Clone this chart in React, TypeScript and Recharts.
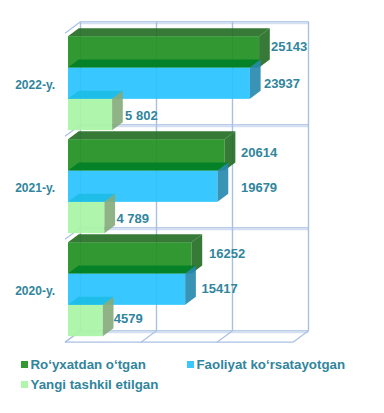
import { BarChart, Bar, XAxis, YAxis, CartesianGrid, LabelList, Legend } from 'recharts';

const years = ['2022-y.', '2021-y.', '2020-y.'];
const registered = [25143, 20614, 16252];
const active = [23937, 19679, 15417];
const created = [5802, 4789, 4579];
const createdLabels = ['5 802', '4 789', '4579'];
const ticks = [0, 10000, 20000, 30000];

// hand placed labels in the original, offset from the bar end / bar middle
const registeredNudge = [[12, -5.5], [16.4, -2.5], [17.5, -4.5]];
const activeNudge = [[14, 0], [23.4, 1], [16.3, -1]];
const createdNudge = [[13, 1], [12, 1], [11, -2.5]];

const data = years.map((year, i) => ({
  year,
  registered: registered[i],
  active: active[i],
  created: created[i],
  createdLabel: createdLabels[i],
}));

const WIDTH = 384;
const HEIGHT = 413;
const MARGIN = { top: 31.2, right: 88, bottom: 72.8, left: 0 };
const BAND = (HEIGHT - MARGIN.top - MARGIN.bottom) / years.length;
const TEXT = '#31859c';
const FONT = '"Liberation Sans", Arial, sans-serif';
const LINE = '#a9c0e3';
const LINE_SOFT = '#d3dff0';

// depth of the bars and of the chart box
const BAR_DX = 10.7;
const BAR_DY = 8;
const BACK_DX = 12.5;
const BACK_DY = -9.5;
const FRONT_DX = -3;
const FRONT_DY = 2;

function bar3d(front: string, top: string, side: string) {
  return (props: any) => {
    const { x, y, width, height } = props;
    const r = x + width;
    return (
      <g>
        <rect x={x} y={y} width={width} height={height} fill={front} fillOpacity={0.92} />
        <polygon
          points={`${x},${y} ${x + BAR_DX},${y - BAR_DY} ${r + BAR_DX},${y - BAR_DY} ${r},${y}`}
          fill={top}
          fillOpacity={0.9}
        />
        <polygon
          points={`${r},${y} ${r + BAR_DX},${y - BAR_DY} ${r + BAR_DX},${y + height - BAR_DY} ${r},${y + height}`}
          fill={side}
          fillOpacity={0.9}
        />
      </g>
    );
  };
}

function valueLabel(nudge: number[][]) {
  return (props: any) => {
    const { x, y, width, height, value, index } = props;
    return (
      <text
        x={x + width + nudge[index][0]}
        y={y + height / 2 + nudge[index][1]}
        dominantBaseline="central"
        fill={TEXT}
        fontFamily={FONT}
        fontSize={13}
        fontWeight="bold"
      >
        {value}
      </text>
    );
  };
}

function wallLine(props: any) {
  const { x1, x2, y1 } = props;
  // the grid also hands over the plot edges, only the band centres are wanted
  const pos = (y1 - MARGIN.top) / BAND;
  const row = Math.floor(pos);
  if (Math.abs(pos - row - 0.5) > 0.01) return <g key={`edge-${y1}`} />;
  const top = y1 - BAND / 2;
  const isLast = row === years.length - 1;
  const rows = isLast ? [top, top + BAND] : [top];
  return (
    <g key={`h-${row}`}>
      {rows.map((y) => (
        <g key={y}>
          <line x1={x1 + BACK_DX} x2={x2 + BACK_DX} y1={y + BACK_DY + 1.5} y2={y + BACK_DY + 1.5} stroke={LINE_SOFT} strokeWidth={2} />
          <line x1={x1 + BACK_DX} x2={x2 + BACK_DX} y1={y + BACK_DY} y2={y + BACK_DY} stroke={LINE} strokeWidth={1} />
          <line x1={x1 + FRONT_DX} x2={x1 + BACK_DX} y1={y + FRONT_DY} y2={y + BACK_DY} stroke={LINE} strokeWidth={1.2} />
        </g>
      ))}
      {isLast && (
        <line x1={x1 + FRONT_DX} x2={x2 + FRONT_DX} y1={top + BAND + FRONT_DY} y2={top + BAND + FRONT_DY} stroke={LINE} strokeWidth={1.2} />
      )}
    </g>
  );
}

function wallColumn(props: any) {
  const { x1, y1, y2, index } = props;
  return (
    <g key={`v-${index}`}>
      <line x1={x1 + BACK_DX} x2={x1 + BACK_DX} y1={y1 + BACK_DY} y2={y2 + BACK_DY} stroke={LINE} strokeWidth={1.4} />
      <line x1={x1 + FRONT_DX} x2={x1 + BACK_DX} y1={y2 + FRONT_DY} y2={y2 + BACK_DY} stroke={LINE} strokeWidth={1.2} />
    </g>
  );
}

function LegendBox({ payload }: any) {
  const spots = [
    { left: 21, top: 357 },
    { left: 187, top: 357 },
    { left: 21, top: 377 },
  ];
  return (
    <div style={{ position: 'relative', width: 0, height: 0 }}>
      {(payload || []).map((item: any, i: number) => (
        <div
          key={item.value}
          style={{
            position: 'absolute',
            left: spots[i].left,
            top: spots[i].top,
            display: 'flex',
            alignItems: 'center',
            height: 15,
            whiteSpace: 'nowrap',
            fontFamily: FONT,
            fontSize: 13.3,
            fontWeight: 'bold',
            color: TEXT,
          }}
        >
          <span style={{ width: 7, height: 7, background: item.color, marginRight: 2.5 }} />
          {item.value}
        </div>
      ))}
    </div>
  );
}

export default function App() {
  return (
    <div style={{ width: WIDTH, height: HEIGHT, background: '#fff' }}>
      <style>{'body{margin:0}'}</style>
      <BarChart
        width={WIDTH}
        height={HEIGHT}
        data={data}
        layout="vertical"
        margin={MARGIN}
        barSize={31.33}
        barGap={0}
      >
        <CartesianGrid horizontal={wallLine} vertical={wallColumn} />
        <XAxis type="number" domain={[0, 30000]} ticks={ticks} hide />
        <YAxis
          type="category"
          dataKey="year"
          width={68}
          axisLine={false}
          tickLine={false}
          tickMargin={7}
          tick={{ fill: TEXT, fontFamily: FONT, fontSize: 12, fontWeight: 'bold', dy: 2 }}
        />
        <Legend
          content={<LegendBox />}
          itemSorter={null}
          wrapperStyle={{ left: 0, top: 0, bottom: 'auto', width: 0, height: 0 }}
        />
        <Bar
          dataKey="registered"
          name="Ro‘yxatdan o‘tgan"
          fill="#339933"
          shape={bar3d('#219021', '#216b21', '#216b21')}
          isAnimationActive={false}
        >
          <LabelList dataKey="registered" content={valueLabel(registeredNudge)} />
        </Bar>
        <Bar
          dataKey="active"
          name="Faoliyat ko‘rsatayotgan"
          fill="#38c8ff"
          shape={bar3d('#27c3ff', '#008026', '#2487ad')}
          isAnimationActive={false}
        >
          <LabelList dataKey="active" content={valueLabel(activeNudge)} />
        </Bar>
        <Bar
          dataKey="created"
          name="Yangi tashkil etilgan"
          fill="#b0f5ac"
          shape={bar3d('#a9f4a5', '#1cbce6', '#83ab79')}
          isAnimationActive={false}
        >
          <LabelList dataKey="createdLabel" content={valueLabel(createdNudge)} />
        </Bar>
      </BarChart>
    </div>
  );
}
